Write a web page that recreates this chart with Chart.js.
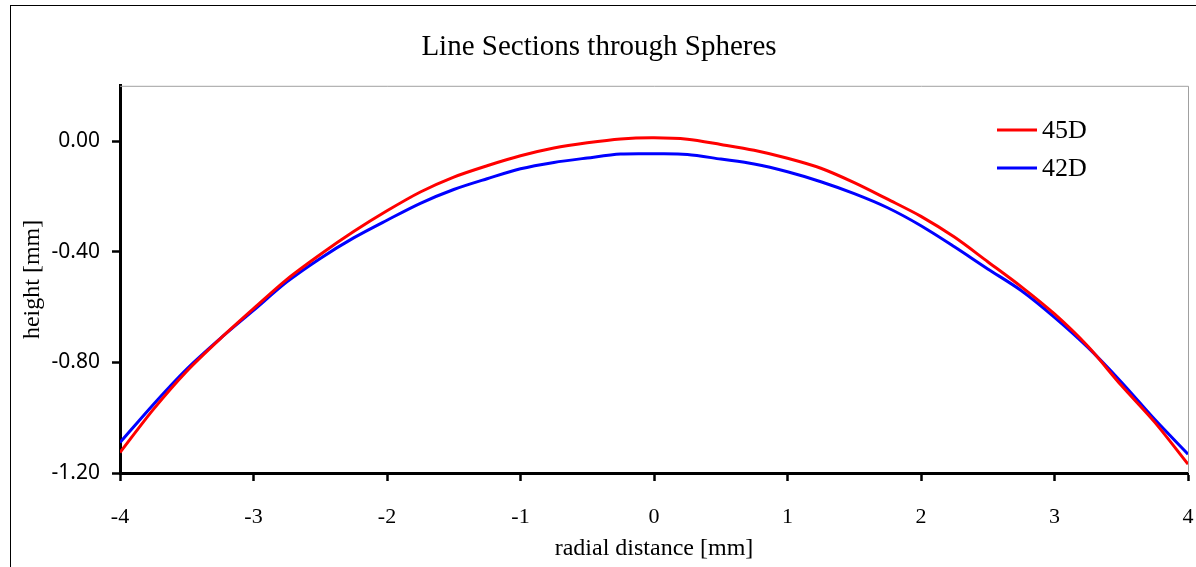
<!DOCTYPE html>
<html>
<head>
<meta charset="utf-8">
<script src="https://cdn.jsdelivr.net/npm/chart.js@4.4.1/dist/chart.umd.min.js"></script>
<style>
html,body{margin:0;padding:0;background:#fff;}
#wrap{position:relative;width:1196px;height:567px;}
</style>
</head>
<body>
<div id="wrap"><canvas id="c" width="1196" height="567"></canvas></div>
<script>
const radialDistance = [-4.00,-3.75,-3.50,-3.25,-3.00,-2.75,-2.50,-2.25,-2.00,-1.75,-1.50,-1.25,-1.00,-0.75,-0.50,-0.25,0.00,0.25,0.50,0.75,1.00,1.25,1.50,1.75,2.00,2.25,2.50,2.75,3.00,3.25,3.50,3.75,4.00];
const height45D = [-1.126,-0.970,-0.832,-0.715,-0.606,-0.500,-0.410,-0.327,-0.252,-0.184,-0.130,-0.089,-0.053,-0.025,-0.006,0.008,0.012,0.007,-0.012,-0.033,-0.062,-0.098,-0.150,-0.210,-0.272,-0.347,-0.436,-0.526,-0.625,-0.742,-0.883,-1.016,-1.168];
const height42D = [-1.090,-0.952,-0.824,-0.714,-0.612,-0.509,-0.424,-0.350,-0.286,-0.225,-0.175,-0.136,-0.100,-0.077,-0.061,-0.047,-0.046,-0.048,-0.065,-0.083,-0.111,-0.147,-0.190,-0.241,-0.306,-0.382,-0.462,-0.540,-0.637,-0.746,-0.871,-1.006,-1.132];
const seriesLabels = ['45D','42D'];
const seriesColors = ['#ff0000','#0000ff'];
const yTickValues = [0.00,-0.40,-0.80,-1.20];
const xTickValues = [-4,-3,-2,-1,0,1,2,3,4];

const toPoints = arr => arr.map((v,i)=>({x: radialDistance[i], y: v}));

const decorPlugin = {
  id: 'decor',
  beforeDatasetsDraw(chart){
    const {ctx, chartArea:a} = chart;
    ctx.save();
    ctx.strokeStyle = '#a0a0a0';
    ctx.lineWidth = 1;
    ctx.beginPath();
    ctx.moveTo(a.left, a.top + 0.5);
    ctx.lineTo(a.right + 0.5, a.top + 0.5);
    ctx.lineTo(a.right + 0.5, a.bottom);
    ctx.stroke();
    ctx.restore();
  },
  afterDraw(chart){
    const {ctx} = chart;
    ctx.save();
    ctx.strokeStyle = '#000';
    ctx.lineWidth = 1;
    ctx.strokeRect(10.5, 5.5, 2000, 2000);
    // legend
    ctx.font = '26px "Liberation Serif", serif';
    ctx.textBaseline = 'middle';
    ctx.textAlign = 'left';
    chart.data.datasets.forEach((ds, i) => {
      const y = 130 + i * 38;
      ctx.strokeStyle = ds.borderColor;
      ctx.lineWidth = 3;
      ctx.beginPath();
      ctx.moveTo(997, y);
      ctx.lineTo(1037, y);
      ctx.stroke();
      ctx.fillStyle = '#000';
      ctx.fillText(ds.label, 1042, y + 1);
    });
    ctx.restore();
  }
};

new Chart(document.getElementById('c'), {
  type: 'line',
  data: {
    datasets: [
      {label: seriesLabels[0], data: toPoints(height45D), borderColor: seriesColors[0], borderWidth: 3, pointRadius: 0, tension: 0.3, fill: false},
      {label: seriesLabels[1], data: toPoints(height42D), borderColor: seriesColors[1], borderWidth: 3, pointRadius: 0, tension: 0.3, fill: false}
    ]
  },
  options: {
    responsive: false,
    animation: false,
    layout: {padding: {left: 10, right: 8, top: 0, bottom: 0}},
    plugins: {
      legend: {display: false},
      tooltip: {enabled: false},
      title: {
        display: true,
        text: 'Line Sections through Spheres',
        color: '#000',
        font: {family: '"Liberation Serif", serif', size: 29, weight: 'normal', lineHeight: 1.2},
        padding: {top: 30, bottom: 21}
      }
    },
    scales: {
      x: {
        type: 'linear',
        min: -4, max: 4,
        afterFit: s => { s.height = 94; s.paddingRight = 0; s.paddingLeft = 0; },
        afterBuildTicks: s => { s.ticks = xTickValues.map(v => ({value: v})); },
        grid: {drawOnChartArea: false, drawTicks: true, tickLength: 8, tickWidth: 2.5, tickColor: '#000'},
        border: {display: true, color: '#000', width: 3},
        ticks: {color: '#000', padding: 23, maxRotation: 0, autoSkip: false,
          font: {family: '"Liberation Serif", serif', size: 22},
          callback: v => String(v)},
        title: {display: true, text: 'radial distance [mm]', color: '#000',
          font: {family: '"Liberation Serif", serif', size: 24, lineHeight: 1.2},
          padding: {top: 0, bottom: 4}}
      },
      y: {
        type: 'linear',
        min: -1.2, max: 0.2,
        afterFit: s => { s.width = 110; },
        afterBuildTicks: s => { s.ticks = yTickValues.map(v => ({value: v})); },
        grid: {drawOnChartArea: false, drawTicks: true, tickLength: 8, tickWidth: 2.5, tickColor: '#000'},
        border: {display: true, color: '#000', width: 3},
        ticks: {color: '#000', padding: 12, autoSkip: false,
          font: {family: '"Noto Sans", sans-serif', size: 21},
          callback: v => (Math.abs(v) < 1e-9 ? 0 : v).toFixed(2)},
        title: {display: true, text: 'height [mm]', color: '#000',
          font: {family: '"Liberation Serif", serif', size: 24, lineHeight: 1.2},
          padding: {top: 8, bottom: 0}}
      }
    }
  },
  plugins: [decorPlugin]
});
</script>
</body>
</html>
